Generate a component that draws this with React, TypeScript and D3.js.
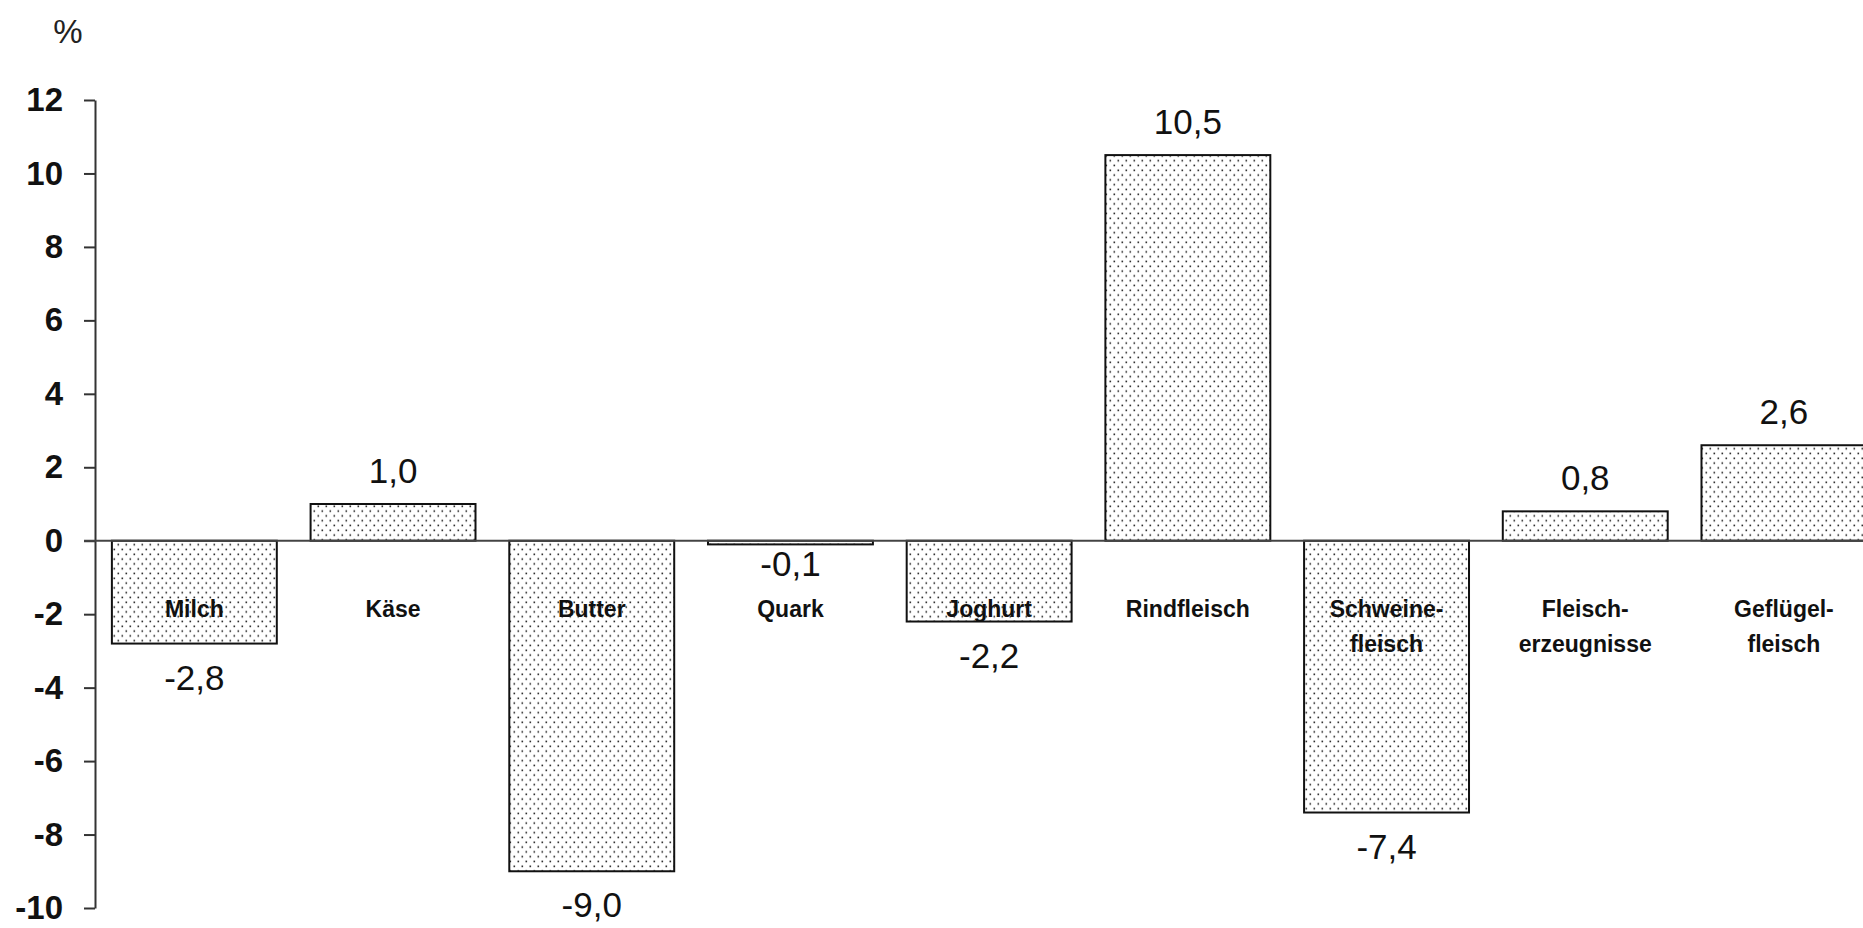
import React from 'react';
import * as d3 from 'd3';

// categories (line breaks as in the original axis labels)
const categories = [
  'Milch',
  'Käse',
  'Butter',
  'Quark',
  'Joghurt',
  'Rindfleisch',
  'Schweine-\nfleisch',
  'Fleisch-\nerzeugnisse',
  'Geflügel-\nfleisch',
];

// change in %
const values = [-2.8, 1.0, -9.0, -0.1, -2.2, 10.5, -7.4, 0.8, 2.6];

const yTicks = [12, 10, 8, 6, 4, 2, 0, -2, -4, -6, -8, -10];

const W = 1863;
const H = 928;

const App: React.FC = () => {
  const svgRef = React.useRef<SVGSVGElement>(null);

  React.useEffect(() => {
    const svgEl = d3.select(svgRef.current);
    svgEl.selectAll('*').remove();

    const axisX = 95;
    const step = 198.7;
    const xScale = d3
      .scaleBand()
      .domain(categories)
      .range([axisX, axisX + step * categories.length])
      .paddingInner(0.17)
      .paddingOuter(0.085);
    const yScale = d3.scaleLinear().domain([-10, 12]).range([908, 100]);

    // dotted fill like the excel pattern
    const defs = svgEl.append('defs');
    const pat = defs
      .append('pattern')
      .attr('id', 'dots')
      .attr('patternUnits', 'userSpaceOnUse')
      .attr('width', 8)
      .attr('height', 9.6);
    pat.append('rect').attr('width', 8).attr('height', 9.6).attr('fill', '#fff');
    pat.append('rect').attr('x', 1.5).attr('y', 1.5).attr('width', 1.6).attr('height', 1.6).attr('fill', '#222');
    pat.append('rect').attr('x', 5.5).attr('y', 6.3).attr('width', 1.6).attr('height', 1.6).attr('fill', '#222');

    const svg = svgEl.append('g');

    // % unit
    svg
      .append('text')
      .attr('x', 68)
      .attr('y', 43)
      .attr('text-anchor', 'middle')
      .attr('font-size', 33)
      .attr('fill', '#222')
      .text('%');

    // y axis
    const yAxis = d3
      .axisLeft(yScale)
      .tickValues(yTicks)
      .tickSize(11)
      .tickSizeOuter(0)
      .tickPadding(21)
      .tickFormat((v) => `${v}`);
    const yAxisGroup = svg
      .append('g')
      .attr('transform', `translate(${axisX},0)`)
      .call(yAxis);
    yAxisGroup.select('.domain').attr('stroke', '#333').attr('stroke-width', 2);
    yAxisGroup.selectAll('line').attr('stroke', '#333').attr('stroke-width', 2);
    yAxisGroup
      .selectAll('text')
      .attr('fill', '#111')
      .attr('font-size', 33)
      .attr('font-weight', 'bold')
      .attr('font-family', '"Liberation Sans", Arial, sans-serif');

    // bars
    svg
      .selectAll('.bar')
      .data(values)
      .enter()
      .append('rect')
      .attr('x', (d, i) => xScale(categories[i]) as number)
      .attr('y', (d) => yScale(Math.max(0, d)))
      .attr('width', xScale.bandwidth())
      .attr('height', (d) => Math.abs(yScale(d) - yScale(0)))
      .attr('fill', 'url(#dots)')
      .attr('stroke', '#111')
      .attr('stroke-width', 2);

    // zero line
    svg
      .append('line')
      .attr('x1', axisX - 11)
      .attr('x2', W)
      .attr('y1', yScale(0))
      .attr('y2', yScale(0))
      .attr('stroke', '#444')
      .attr('stroke-width', 2);

    // category labels
    const catBase = yScale(0) + 76;
    categories.forEach((c, i) => {
      const cx = (xScale(c) as number) + xScale.bandwidth() / 2;
      c.split('\n').forEach((line, j) => {
        svg
          .append('text')
          .attr('x', cx)
          .attr('y', catBase + j * 35)
          .attr('text-anchor', 'middle')
          .attr('font-size', 23)
          .attr('font-weight', 'bold')
          .attr('fill', '#111')
          .text(line);
      });
    });

    // value labels
    values.forEach((v, i) => {
      const cx = (xScale(categories[i]) as number) + xScale.bandwidth() / 2;
      const h = Math.abs(yScale(v) - yScale(0));
      const y = v >= 0 ? yScale(v) - 21 : yScale(v) + Math.min(46, 28 + h);
      svg
        .append('text')
        .attr('x', cx)
        .attr('y', y)
        .attr('text-anchor', 'middle')
        .attr('font-size', 35)
        .attr('fill', '#111')
        .text(v.toFixed(1).replace('.', ','));
    });
  }, []);

  return (
    <svg
      ref={svgRef}
      width={W}
      height={H}
      style={{
        position: 'absolute',
        left: 0,
        top: 0,
        background: '#fff',
        fontFamily: '"Liberation Sans", Arial, sans-serif',
      }}
    />
  );
};

export default App;
